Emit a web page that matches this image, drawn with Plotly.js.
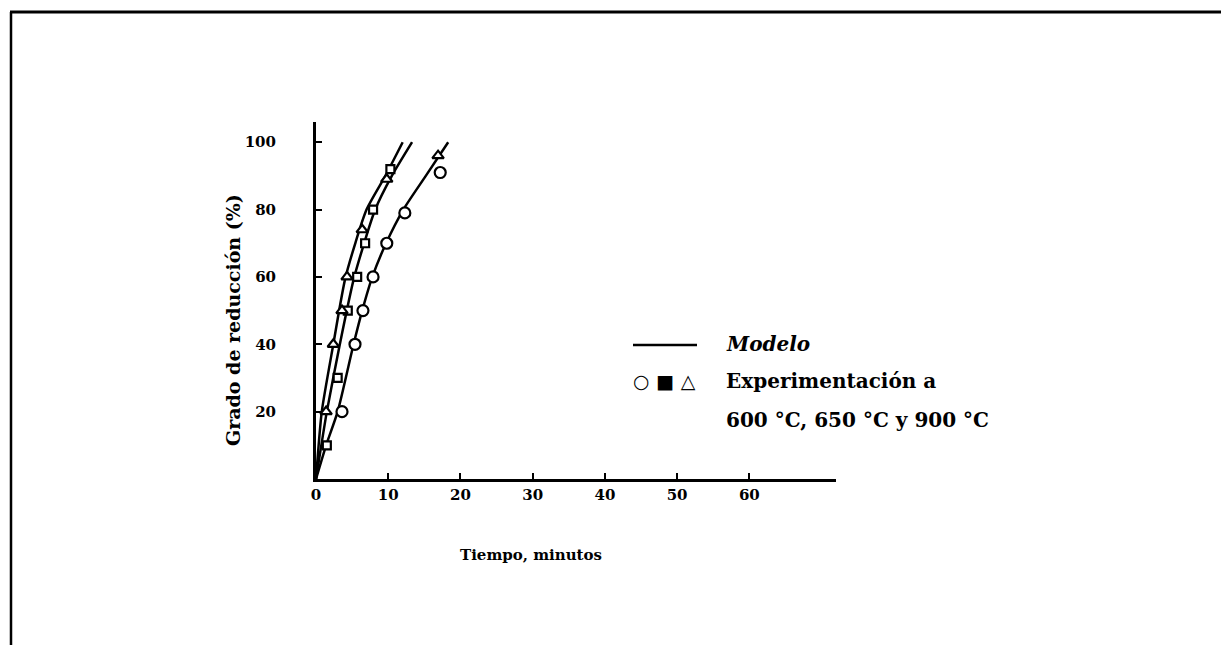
<!DOCTYPE html>
<html>
<head>
<meta charset="utf-8">
<script src="https://cdn.plot.ly/plotly-3.0.1.min.js"></script>
<style>
html,body{margin:0;padding:0;background:#fff;}
#chart{width:1221px;height:645px;}
</style>
</head>
<body>
<div id="chart"></div>
<script>
// Experimental data (Tiempo, minutos vs Grado de reducción %)
const exp600X = [3.6, 5.4, 6.5, 7.9, 9.8, 12.3, 17.2];
const exp600Y = [20, 40, 50, 60, 70, 79, 91];
const exp650X = [1.5, 3.0, 4.4, 5.7, 6.8, 7.9, 10.3];
const exp650Y = [10, 30, 50, 60, 70, 80, 92];
const exp900X = [1.4, 2.4, 3.6, 4.3, 6.4, 9.8, 16.9];
const exp900Y = [20, 40, 50, 60, 74, 89, 96];

// Model curves
const mod600X = [0, 1.4, 3.0, 5.2, 6.4, 7.8, 9.7, 12.1, 15.2, 18.3];
const mod600Y = [0, 10, 20, 40, 50, 60, 70, 80, 90, 100];
const mod650X = [0, 1.5, 3.3, 5.3, 8.2, 10.5, 13.3];
const mod650Y = [0, 20, 40, 60, 80, 90, 100];
const mod900X = [0, 0.8, 2.4, 4.1, 7.0, 9.6, 12.0];
const mod900Y = [0, 20, 40, 60, 80, 90, 100];

const xTicks = [0, 10, 20, 30, 40, 50, 60];
const yTicks = [20, 40, 60, 80, 100];

const FONT = "DejaVu Serif";
const lineStyle = {color: "#000", width: 2.5, shape: "spline", smoothing: 0.6};
function modelTrace(x, y) {
  return {x: x, y: y, mode: "lines", line: lineStyle, showlegend: false, hoverinfo: "skip"};
}
function expTrace(x, y, sym, size) {
  return {x: x, y: y, mode: "markers", showlegend: false,
    marker: {symbol: sym, size: size, color: "#fff", line: {color: "#000", width: 2.2}}};
}

const data = [
  modelTrace(mod600X, mod600Y),
  modelTrace(mod650X, mod650Y),
  modelTrace(mod900X, mod900Y),
  expTrace(exp600X, exp600Y, "circle", 11),
  expTrace(exp650X, exp650Y, "square", 8),
  expTrace(exp900X, exp900Y, "triangle-up", 10)
];

// pixel -> paper helpers (plot area: x 316..836, y 122..479)
const L = 316, R = 836, T = 122, B = 479;
const px = v => (v - L) / (R - L);
const py = v => (B - v) / (B - T);

const layout = {
  width: 1221, height: 645,
  margin: {l: L, r: 1221 - R, t: T, b: 645 - B, pad: 0},
  paper_bgcolor: "#fff", plot_bgcolor: "#fff",
  font: {family: FONT, color: "#000", size: 14},
  showlegend: false,
  xaxis: {
    range: [0, 72], showgrid: false, zeroline: false,
    showline: true, linecolor: "#000", linewidth: 3,
    tickmode: "array", tickvals: xTicks, ticktext: xTicks.map(v => "<b>" + v + "</b>"),
    ticks: "inside", ticklen: 6, tickwidth: 2, tickcolor: "#000",
    tickfont: {family: FONT, size: 15, color: "#000"}
  },
  yaxis: {
    range: [0, 106], showgrid: false, zeroline: false,
    showline: true, linecolor: "#000", linewidth: 3,
    tickmode: "array", tickvals: yTicks, ticktext: yTicks.map(v => "<b>" + v + "</b>"),
    ticks: "inside", ticklen: 6, tickwidth: 2, tickcolor: "#000",
    ticklabelstandoff: 34,
    tickfont: {family: FONT, size: 15, color: "#000"}
  },
  shapes: [
    // scanned page frame
    {type: "line", xref: "paper", yref: "paper", x0: px(10), x1: px(1221), y0: py(12), y1: py(12), line: {color: "#000", width: 3}},
    {type: "line", xref: "paper", yref: "paper", x0: px(11), x1: px(11), y0: py(12), y1: py(645), line: {color: "#000", width: 2.5}},
    // legend line sample
    {type: "line", xref: "paper", yref: "paper", x0: px(633), x1: px(697), y0: py(345), y1: py(345), line: {color: "#000", width: 2.5}}
  ],
  annotations: [
    {xref: "paper", yref: "paper", x: px(531), y: py(555), text: "<b>Tiempo, minutos</b>", showarrow: false,
     font: {family: FONT, size: 15}, xanchor: "center", yanchor: "middle"},
    {xref: "paper", yref: "paper", x: px(233), y: py(320), text: "<b>Grado de reducción (%)</b>", showarrow: false,
     textangle: -90, font: {family: FONT, size: 19}, xanchor: "center", yanchor: "middle"},
    {xref: "paper", yref: "paper", x: px(724), y: py(344), text: "<b><i>Modelo</i></b>", showarrow: false,
     font: {family: FONT, size: 20}, xanchor: "left", yanchor: "middle"},
    {xref: "paper", yref: "paper", x: px(631), y: py(381), text: "<b>○ ■ △</b>", showarrow: false,
     font: {family: FONT, size: 19}, xanchor: "left", yanchor: "middle"},
    {xref: "paper", yref: "paper", x: px(724), y: py(381), text: "<b>Experimentación a</b>", showarrow: false,
     font: {family: FONT, size: 20}, xanchor: "left", yanchor: "middle"},
    {xref: "paper", yref: "paper", x: px(724), y: py(420), text: "<b>600 °C, 650 °C y 900 °C</b>", showarrow: false,
     font: {family: FONT, size: 20}, xanchor: "left", yanchor: "middle"}
  ]
};

Plotly.newPlot("chart", data, layout, {staticPlot: true, displayModeBar: false});
</script>
</body>
</html>
